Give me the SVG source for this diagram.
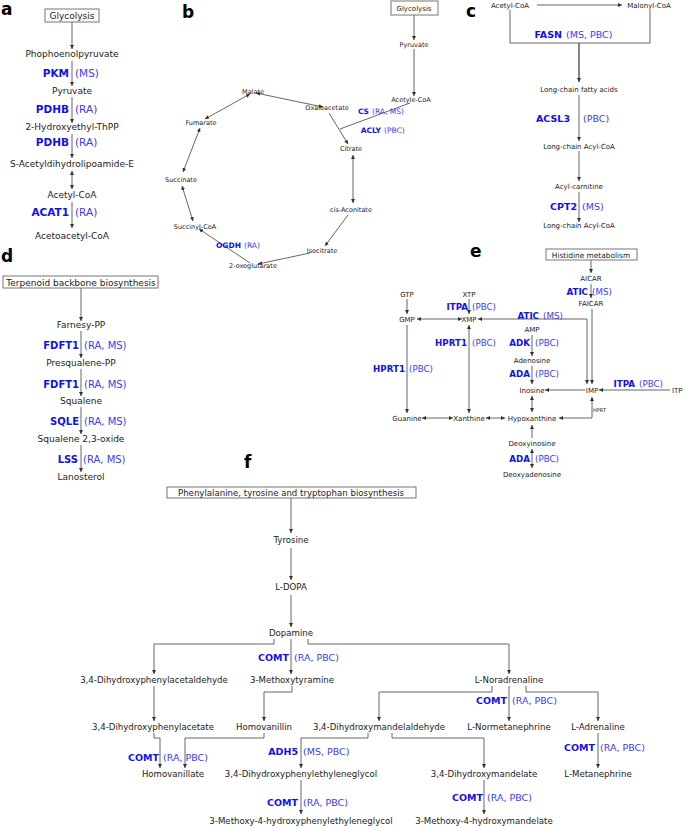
<svg xmlns="http://www.w3.org/2000/svg" width="685" height="826" viewBox="0 0 685 826">
<defs>
<marker id="ah" viewBox="0 0 6 6" refX="6" refY="3" markerWidth="4" markerHeight="4" orient="auto-start-reverse" markerUnits="userSpaceOnUse"><path d="M0,0 L6,3 L0,6 z" fill="#333"/></marker>
<style>
text{font-family:"DejaVu Sans","Liberation Sans",sans-serif;fill:#222}
.m{text-anchor:middle}
.lt{font-weight:bold;font-size:17px;fill:#000}
.ez{font-weight:bold;fill:#1010f0;text-anchor:end}
.ep{fill:#3a3af5}
.box{fill:#fff;stroke:#777;stroke-width:1}
.cn line,.cn polyline{stroke:#666;stroke-width:1;fill:none;marker-end:url(#ah)}
.cn .d{marker-start:url(#ah)}
.cn .n{marker-end:none}
.fa{font-size:9px}.fb{font-size:6.5px}.fc{font-size:7px}.fd{font-size:9px}.fe{font-size:7px}.ff{font-size:8.6px}
.ga{font-size:10.5px}.gb{font-size:7.5px}.gc{font-size:9.5px}.gd{font-size:10px}.ge{font-size:8.7px}.gf{font-size:9.5px}
</style>
</defs>
<rect width="685" height="826" fill="#fff"/>
<g id="panel-letters">
<text class="lt" x="1" y="15">a</text>
<text class="lt" x="182" y="18">b</text>
<text class="lt" x="466" y="17">c</text>
<text class="lt" x="1" y="262">d</text>
<text class="lt" x="470" y="257">e</text>
<text class="lt" x="244" y="468">f</text>
</g>
<g id="connectors" class="cn">
<line x1="72" y1="22" x2="72" y2="49"/>
<line x1="72" y1="61" x2="72" y2="86"/>
<line x1="72" y1="97" x2="72" y2="123"/>
<line x1="72" y1="134" x2="72" y2="158"/>
<line class="d" x1="72" y1="171" x2="72" y2="189"/>
<line x1="72" y1="202" x2="72" y2="228"/>
<line x1="414" y1="15" x2="414" y2="40"/>
<line x1="414" y1="49" x2="414" y2="96"/>
<line class="n" x1="410" y1="103" x2="340" y2="129"/>
<line x1="329" y1="113" x2="348" y2="144"/>
<line class="d" x1="353" y1="155" x2="353" y2="203"/>
<line x1="348" y1="215" x2="325" y2="246"/>
<line x1="310" y1="253" x2="258" y2="264"/>
<line x1="250" y1="263" x2="199" y2="229"/>
<line class="d" x1="193" y1="221" x2="182" y2="186"/>
<line class="d" x1="183" y1="172" x2="200" y2="128"/>
<line class="d" x1="205" y1="119" x2="250" y2="94"/>
<line class="d" x1="256" y1="93" x2="323" y2="107"/>
<line x1="537" y1="5" x2="622" y2="5"/>
<polyline class="n" points="510,10 510,43 650,43 650,10"/>
<line x1="579" y1="43" x2="579" y2="82" style="stroke-width:1.6"/>
<line x1="579" y1="95" x2="579" y2="141"/>
<line x1="579" y1="151" x2="579" y2="181"/>
<line x1="579" y1="192" x2="579" y2="222"/>
<line x1="81" y1="288" x2="81" y2="321"/>
<line x1="81" y1="331" x2="81" y2="358"/>
<line x1="81" y1="369" x2="81" y2="396"/>
<line x1="81" y1="407" x2="81" y2="434"/>
<line x1="81" y1="445" x2="81" y2="472"/>
<line x1="591" y1="259" x2="591" y2="273"/>
<line x1="591" y1="284" x2="591" y2="298"/>
<line x1="407" y1="299" x2="407" y2="314"/>
<line x1="469" y1="299" x2="469" y2="314"/>
<line class="d" x1="417" y1="319" x2="462" y2="319"/>
<polyline class="d" points="478,319 587,319 587,384"/>
<line x1="592" y1="309" x2="592" y2="384"/>
<line x1="585" y1="390" x2="545" y2="390"/>
<line x1="670" y1="390" x2="599" y2="390"/>
<line x1="532" y1="335" x2="532" y2="356"/>
<line x1="532" y1="366" x2="532" y2="384"/>
<line class="d" x1="532" y1="396" x2="532" y2="412"/>
<line x1="532" y1="438" x2="532" y2="425"/>
<line class="d" x1="532" y1="449" x2="532" y2="468"/>
<line x1="407" y1="325" x2="407" y2="413"/>
<line class="d" x1="469" y1="325" x2="469" y2="413"/>
<line class="d" x1="422" y1="418" x2="453" y2="418"/>
<line class="d" x1="486" y1="418" x2="505" y2="418"/>
<polyline class="d" points="559,418 592,418 592,397"/>
<line x1="291" y1="498" x2="291" y2="533"/>
<line x1="291" y1="548" x2="291" y2="580"/>
<line x1="291" y1="595" x2="291" y2="627"/>
<polyline points="274,639 274,644 154,644 154,674"/>
<line x1="291" y1="639" x2="291" y2="674"/>
<polyline points="308,639 308,644 509,644 509,674"/>
<line x1="154" y1="686" x2="154" y2="721"/>
<polyline points="292,686 292,692 264,692 264,721"/>
<polyline points="492,686 492,692 379,692 379,721"/>
<line x1="509" y1="686" x2="509" y2="721"/>
<polyline points="526,686 526,692 598,692 598,721"/>
<polyline points="154,733 154,738 160,738 160,768"/>
<polyline points="264,733 264,738 185,738 185,768"/>
<polyline points="368,733 368,738 301,738 301,768"/>
<polyline points="392,733 392,738 484,738 484,768"/>
<line x1="598" y1="733" x2="598" y2="768"/>
<line x1="301" y1="780" x2="301" y2="814"/>
<line x1="484" y1="780" x2="484" y2="814"/>
</g>
<g id="enzyme-labels">
<text class="ez ga" x="69" y="77">PKM</text><text class="ep ga" x="75" y="77">(MS)</text>
<text class="ez ga" x="69" y="113">PDHB</text><text class="ep ga" x="75" y="113">(RA)</text>
<text class="ez ga" x="69" y="146">PDHB</text><text class="ep ga" x="75" y="146">(RA)</text>
<text class="ez ga" x="69" y="216">ACAT1</text><text class="ep ga" x="75" y="216">(RA)</text>
<text class="ez gb" x="369" y="113.5">CS</text><text class="ep gb" x="372" y="113.5">(RA, MS)</text>
<text class="ez gb" x="381" y="132.5">ACLY</text><text class="ep gb" x="384" y="132.5">(PBC)</text>
<text class="ez gb" x="241" y="247.5">OGDH</text><text class="ep gb" x="244" y="247.5">(RA)</text>
<text class="ez gc" x="562" y="37.5">FASN</text><text class="ep gc" x="566" y="37.5">(MS, PBC)</text>
<text class="ez gc" x="570" y="121.5">ACSL3</text><text class="ep gc" x="583" y="121.5">(PBC)</text>
<text class="ez gc" x="577" y="209.5">CPT2</text><text class="ep gc" x="582" y="209.5">(MS)</text>
<text class="ez gd" x="79" y="348.5">FDFT1</text><text class="ep gd" x="84" y="348.5">(RA, MS)</text>
<text class="ez gd" x="79" y="387.5">FDFT1</text><text class="ep gd" x="84" y="387.5">(RA, MS)</text>
<text class="ez gd" x="79" y="424.5">SQLE</text><text class="ep gd" x="84" y="424.5">(RA, MS)</text>
<text class="ez gd" x="78" y="462.5">LSS</text><text class="ep gd" x="83" y="462.5">(RA, MS)</text>
<text class="ez ge" x="588" y="294.5">ATIC</text><text class="ep ge" x="592" y="294.5">(MS)</text>
<text class="ez ge" x="468" y="310">ITPA</text><text class="ep ge" x="472" y="310">(PBC)</text>
<text class="ez ge" x="539" y="319">ATIC</text><text class="ep ge" x="543" y="319">(MS)</text>
<text class="ez ge" x="530" y="345.5">ADK</text><text class="ep ge" x="535" y="345.5">(PBC)</text>
<text class="ez ge" x="530" y="376.5">ADA</text><text class="ep ge" x="535" y="376.5">(PBC)</text>
<text class="ez ge" x="405" y="371.5">HPRT1</text><text class="ep ge" x="409" y="371.5">(PBC)</text>
<text class="ez ge" x="467" y="345.5">HPRT1</text><text class="ep ge" x="472" y="345.5">(PBC)</text>
<text class="ez ge" x="635" y="386.5">ITPA</text><text class="ep ge" x="639" y="386.5">(PBC)</text>
<text class="ez ge" x="530" y="461.5">ADA</text><text class="ep ge" x="535" y="461.5">(PBC)</text>
<text x="593" y="412" style="font-size:5px">HPRT</text>
<text class="ez gf" x="289" y="660.5">COMT</text><text class="ep gf" x="294" y="660.5">(RA, PBC)</text>
<text class="ez gf" x="507" y="703.5">COMT</text><text class="ep gf" x="512" y="703.5">(RA, PBC)</text>
<text class="ez gf" x="159" y="760.5">COMT</text><text class="ep gf" x="163" y="760.5">(RA, PBC)</text>
<text class="ez gf" x="298" y="754.5">ADH5</text><text class="ep gf" x="303" y="754.5">(MS, PBC)</text>
<text class="ez gf" x="595" y="750.5">COMT</text><text class="ep gf" x="600" y="750.5">(RA, PBC)</text>
<text class="ez gf" x="298" y="805.5">COMT</text><text class="ep gf" x="303" y="805.5">(RA, PBC)</text>
<text class="ez gf" x="483" y="800.5">COMT</text><text class="ep gf" x="487" y="800.5">(RA, PBC)</text>
</g>
<g id="a-glycolysis"><rect class="box" x="45" y="9" width="54" height="13"/><text class="m fa" x="72" y="19">Glycolysis</text></g>
<g id="a-pep"><text class="m fa" x="72" y="57">Phophoenolpyruvate</text></g>
<g id="a-pyruvate"><text class="m fa" x="72" y="94">Pyruvate</text></g>
<g id="a-hethpp"><text class="m fa" x="72" y="130">2-Hydroxyethyl-ThPP</text></g>
<g id="a-sadl"><text class="m fa" x="72" y="167">S-Acetyldihydrolipoamide-E</text></g>
<g id="a-acetylcoa"><text class="m fa" x="72" y="198">Acetyl-CoA</text></g>
<g id="a-acetoacetylcoa"><text class="m fa" x="72" y="239">Acetoacetyl-CoA</text></g>
<g id="b-glycolysis"><rect class="box" x="391" y="1" width="47" height="14"/><text class="m fb" x="414" y="10.5" style="font-size:7px">Glycolysis</text></g>
<g id="b-pyruvate"><text class="m fb" x="414" y="46.5">Pyruvate</text></g>
<g id="b-acetylcoa"><text class="m fb" x="411" y="102">Acetyle-CoA</text></g>
<g id="b-malate"><text class="m fb" x="253" y="94">Malate</text></g>
<g id="b-oxaloacetate"><text class="m fb" x="327" y="110">Oxaloacetate</text></g>
<g id="b-fumarate"><text class="m fb" x="201" y="124.5">Fumarate</text></g>
<g id="b-citrate"><text class="m fb" x="351" y="150.5">Citrate</text></g>
<g id="b-succinate"><text class="m fb" x="181" y="181.5">Succinate</text></g>
<g id="b-cisaconitate"><text class="m fb" x="351" y="211.5">cis-Aconitate</text></g>
<g id="b-succinylcoa"><text class="m fb" x="195" y="228.5">Succinyl-CoA</text></g>
<g id="b-isocitrate"><text class="m fb" x="322" y="252.5">Isocitrate</text></g>
<g id="b-oxoglutarate"><text class="m fb" x="253" y="267.5">2-oxoglutarate</text></g>
<g id="c-acetylcoa"><text class="m fc" x="510" y="7.5">Acetyl-CoA</text></g>
<g id="c-malonylcoa"><text class="m fc" x="649" y="7.5">Malonyl-CoA</text></g>
<g id="c-lcfa"><text class="m fc" x="579" y="91.5">Long-chain fatty acids</text></g>
<g id="c-lcacylcoa1"><text class="m fc" x="579" y="148.5">Long-chain Acyl-CoA</text></g>
<g id="c-acylcarnitine"><text class="m fc" x="579" y="188.5">Acyl-carnitine</text></g>
<g id="c-lcacylcoa2"><text class="m fc" x="579" y="228">Long-chain Acyl-CoA</text></g>
<g id="d-terpenoid"><rect class="box" x="3" y="276" width="155" height="12"/><text class="m fd" x="81" y="285.5">Terpenoid backbone biosynthesis</text></g>
<g id="d-farnesypp"><text class="m fd" x="81" y="328">Farnesy-PP</text></g>
<g id="d-presqualenepp"><text class="m fd" x="81" y="366">Presqualene-PP</text></g>
<g id="d-squalene"><text class="m fd" x="81" y="404">Squalene</text></g>
<g id="d-squaleneoxide"><text class="m fd" x="81" y="442">Squalene 2,3-oxide</text></g>
<g id="d-lanosterol"><text class="m fd" x="81" y="480">Lanosterol</text></g>
<g id="e-histidine"><rect class="box" x="546" y="249" width="91" height="11"/><text class="m fe" x="591" y="257.5" style="font-size:7.4px">Histidine metabolism</text></g>
<g id="e-aicar"><text class="m fe" x="591" y="280.5">AICAR</text></g>
<g id="e-faicar"><text class="m fe" x="591" y="305.5">FAICAR</text></g>
<g id="e-gtp"><text class="m fe" x="407" y="296.5">GTP</text></g>
<g id="e-xtp"><text class="m fe" x="469" y="296.5">XTP</text></g>
<g id="e-gmp"><text class="m fe" x="407" y="321.5">GMP</text></g>
<g id="e-xmp"><text class="m fe" x="469" y="321.5">XMP</text></g>
<g id="e-amp"><text class="m fe" x="532" y="331.5">AMP</text></g>
<g id="e-adenosine"><text class="m fe" x="532" y="362.5">Adenosine</text></g>
<g id="e-inosine"><text class="m fe" x="532" y="392.5">Inosine</text></g>
<g id="e-imp"><text class="m fe" x="592" y="392.5">IMP</text></g>
<g id="e-itp"><text class="fe" x="672" y="392.5">ITP</text></g>
<g id="e-guanine"><text class="m fe" x="407" y="420.5">Guanine</text></g>
<g id="e-xanthine"><text class="m fe" x="469" y="420.5">Xanthine</text></g>
<g id="e-hypoxanthine"><text class="m fe" x="532" y="420.5">Hypoxanthine</text></g>
<g id="e-deoxyinosine"><text class="m fe" x="532" y="445.5">Deoxyinosine</text></g>
<g id="e-deoxyadenosine"><text class="m fe" x="532" y="476.5">Deoxyadenosine</text></g>
<g id="f-phe"><rect class="box" x="167" y="487" width="249" height="11"/><text class="m ff" x="291" y="495.5">Phenylalanine, tyrosine and tryptophan biosynthesis</text></g>
<g id="f-tyrosine"><text class="m ff" x="291" y="543">Tyrosine</text></g>
<g id="f-ldopa"><text class="m ff" x="291" y="590">L-DOPA</text></g>
<g id="f-dopamine"><text class="m ff" x="291" y="636">Dopamine</text></g>
<g id="f-dopal"><text class="m ff" x="154" y="683">3,4-Dihydroxyphenylacetaldehyde</text></g>
<g id="f-3mt"><text class="m ff" x="292" y="683">3-Methoxytyramine</text></g>
<g id="f-noradrenaline"><text class="m ff" x="509" y="683">L-Noradrenaline</text></g>
<g id="f-dopac"><text class="m ff" x="153" y="730">3,4-Dihydroxyphenylacetate</text></g>
<g id="f-homovanillin"><text class="m ff" x="264" y="730">Homovanillin</text></g>
<g id="f-dhmal"><text class="m ff" x="379" y="730">3,4-Dihydroxymandelaldehyde</text></g>
<g id="f-normetanephrine"><text class="m ff" x="509" y="730">L-Normetanephrine</text></g>
<g id="f-adrenaline"><text class="m ff" x="598" y="730">L-Adrenaline</text></g>
<g id="f-homovanillate"><text class="m ff" x="173" y="777">Homovanillate</text></g>
<g id="f-dhpg"><text class="m ff" x="301" y="777">3,4-Dihydroxyphenylethyleneglycol</text></g>
<g id="f-dhma"><text class="m ff" x="484" y="777">3,4-Dihydroxymandelate</text></g>
<g id="f-metanephrine"><text class="m ff" x="598" y="777">L-Metanephrine</text></g>
<g id="f-mhpg"><text class="m ff" x="301" y="824">3-Methoxy-4-hydroxyphenylethyleneglycol</text></g>
<g id="f-vma"><text class="m ff" x="484" y="824">3-Methoxy-4-hydroxymandelate</text></g>
</svg>
